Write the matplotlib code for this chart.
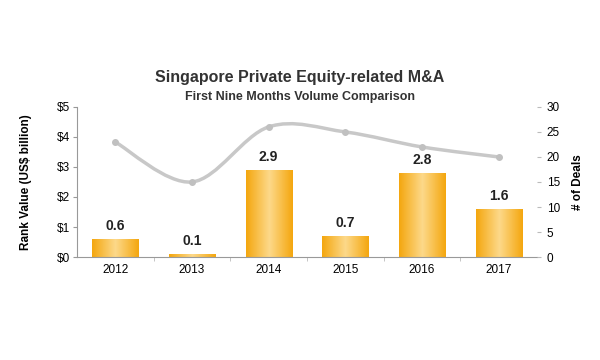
#Singapore PE-related M&A: rank value bars and deal count line
import numpy as np
import matplotlib.pyplot as plt
from matplotlib.path import Path
from matplotlib.patches import PathPatch
from matplotlib.colors import LinearSegmentedColormap

plt.rcParams['font.family'] = ['Liberation Sans', 'DejaVu Sans']

years = ['2012', '2013', '2014', '2015', '2016', '2017']
rank_value = [0.6, 0.1, 2.9, 0.7, 2.8, 1.6]
deals = [23, 15, 26, 25, 22, 20]

fig = plt.figure(figsize=(6, 3.6), dpi=100)
ax = fig.add_axes([0.128, 0.286, 0.767, 0.417])
ax2 = ax.twinx()

x = np.arange(len(years))
bars = ax.bar(x, rank_value, width=0.6, color='#F9B52B', zorder=2)

#gradient fill: darker edges, light center
cmap = LinearSegmentedColormap.from_list('gold', ['#F4A70F', '#FDD98A', '#F4A70F'])
grad = np.linspace(0, 1, 100).reshape(1, -1)
for b in bars:
    im = ax.imshow(grad, cmap=cmap, aspect='auto', zorder=2,
                   extent=[b.get_x(), b.get_x() + b.get_width(), 0, b.get_height()])
    im.set_clip_path(b)
    ax.text(b.get_x() + b.get_width() / 2, b.get_height() + 0.2, f'{b.get_height():.1f}',
            ha='center', va='bottom', fontsize=10, fontweight='bold', color='#222222')

ax.set_xlim(-0.5, len(years) - 0.5)
ax.set_ylim(0, 5)
ax.set_yticks(range(6))
ax.set_yticklabels([f'${v}' for v in range(6)])
ax.set_xticks(x)
ax.set_xticklabels(years)
ax.set_xticks(np.arange(0.5, len(years) - 1, 1), minor=True)
ax.tick_params(axis='x', which='major', length=0, labelsize=8.5, pad=5)
ax.tick_params(axis='x', which='minor', length=3, color='#bbbbbb')
ax.tick_params(axis='y', length=3, color='#999999', labelsize=8.5, pad=2)
ax.set_ylabel('Rank Value (US$ billion)', fontsize=8.5, fontweight='bold', labelpad=18)
for s in ['top', 'right']:
    ax.spines[s].set_visible(False)
ax.spines['left'].set_color('#999999')
ax.spines['bottom'].set_color('#999999')

#smooth line through deal counts (catmull-rom as bezier segments)
pts = np.column_stack([x, deals]).astype(float)
verts = [tuple(pts[0])]
codes = [Path.MOVETO]
for i in range(len(pts) - 1):
    p0 = pts[max(i - 1, 0)]
    p1 = pts[i]
    p2 = pts[i + 1]
    p3 = pts[min(i + 2, len(pts) - 1)]
    c1 = p1 + (p2 - p0) / 6
    c2 = p2 - (p3 - p1) / 6
    verts += [tuple(c1), tuple(c2), tuple(p2)]
    codes += [Path.CURVE4] * 3
ax2.add_patch(PathPatch(Path(verts, codes), facecolor='none', edgecolor='#c8c8c8', lw=2.5, zorder=3))
ax2.plot(x, deals, 'o', color='#c0c0c0', ms=4, zorder=4)

ax2.set_ylim(0, 30)
ax2.set_yticks(range(0, 31, 5))
ax2.tick_params(axis='y', length=3, color='#bbbbbb', labelsize=8.5, pad=4)
ax2.set_ylabel('# of Deals', fontsize=8.5, fontweight='bold', labelpad=9)
for s in ['top', 'right', 'left', 'bottom']:
    ax2.spines[s].set_visible(False)

fig.text(0.5, 0.772, 'Singapore Private Equity-related M&A', ha='center', fontsize=11.5, fontweight='bold', color='#333333')
fig.text(0.5, 0.722, 'First Nine Months Volume Comparison', ha='center', fontsize=9, fontweight='bold', color='#333333')

fig.savefig('out.png', dpi=100)
